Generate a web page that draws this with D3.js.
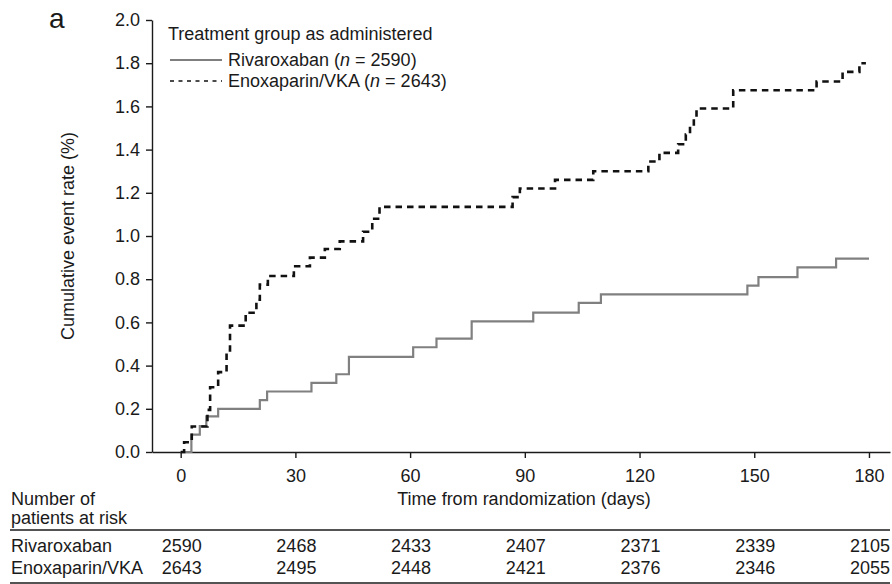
<!DOCTYPE html>
<html>
<head>
<meta charset="utf-8">
<script src="https://cdn.jsdelivr.net/npm/d3@7"></script>
<style>
  body { margin: 0; background: #fff; }
  svg text { font-family: "Liberation Sans", Arial, Helvetica, sans-serif; fill: #1a1a1a; }
  .axis path, .axis line { stroke: #1a1a1a; stroke-width: 1.4; }
  .axis text { font-size: 18px; }
</style>
</head>
<body>
<div id="km"></div>
<script>
// step points: day of the step, cumulative event rate (%) after it
var rivaDays = [0, 2.8, 5.0, 6.7, 9.8, 20.7, 22.6, 34.2, 40.7, 44.0, 60.8, 66.9, 76.1, 92.2, 104.1, 109.9, 148.2, 151.1, 161.3, 171.4, 180];
var rivaRate = [0, 0.08, 0.12, 0.165, 0.2, 0.24, 0.28, 0.32, 0.36, 0.44, 0.485, 0.525, 0.605, 0.645, 0.69, 0.73, 0.77, 0.81, 0.855, 0.895, 0.895];

var enoxDays = [0, 0.9, 2.9, 7.0, 7.7, 9.8, 12.0, 12.9, 17.0, 19.8, 20.7, 22.8, 29.6, 33.8, 37.7, 41.6, 47.7, 50.1, 52.0, 86.8, 88.7, 97.9, 107.9, 122.3, 125.2, 130.1, 132.1, 133.2, 134.2, 134.9, 144.5, 166.3, 173.1, 177.5, 179.2];
var enoxRate = [0, 0.045, 0.118, 0.195, 0.3, 0.37, 0.47, 0.585, 0.645, 0.705, 0.775, 0.815, 0.86, 0.9, 0.94, 0.975, 1.02, 1.08, 1.135, 1.18, 1.22, 1.26, 1.3, 1.345, 1.385, 1.425, 1.47, 1.51, 1.55, 1.59, 1.675, 1.715, 1.76, 1.8, 1.8];

var xTicks = [0, 30, 60, 90, 120, 150, 180];
var yTicks = [0, 0.2, 0.4, 0.6, 0.8, 1.0, 1.2, 1.4, 1.6, 1.8, 2.0];

var groupNames = ['Rivaroxaban', 'Enoxaparin/VKA'];
var groupN = [2590, 2643];
var rivaAtRisk = [2590, 2468, 2433, 2407, 2371, 2339, 2105];
var enoxAtRisk = [2643, 2495, 2448, 2421, 2376, 2346, 2055];

var width = 892, height = 584;

var svg = d3.select('#km')
    .append('svg')
    .attr('width', width)
    .attr('height', height);

var x = d3.scaleLinear()
    .domain([-7.5, 185.5])
    .range([152, 890]);
var y = d3.scaleLinear()
    .domain([0, 2])
    .range([452, 20]);

var xAxis = d3.axisBottom(x)
    .tickValues(xTicks)
    .tickSize(6)
    .tickSizeOuter(0)
    .tickPadding(18);
var yAxis = d3.axisLeft(y)
    .tickValues(yTicks)
    .tickFormat(d3.format('.1f'))
    .tickSize(6)
    .tickSizeOuter(0)
    .tickPadding(6);

svg.append('g')
    .attr('class', 'axis')
    .attr('transform', 'translate(0,' + y(0) + ')')
    .call(xAxis)
    .selectAll('text').attr('dy', '0.32em');

svg.append('g')
    .attr('class', 'axis')
    .attr('transform', 'translate(' + x(-7.5) + ',0)')
    .call(yAxis);

// panel letter
svg.append('text')
    .attr('x', 49)
    .attr('y', 28)
    .style('font-size', '28px')
    .text('a');

// axis titles
svg.append('text')
    .attr('transform', 'translate(74,' + ((y(0) + y(2)) / 2) + ') rotate(-90)')
    .style('text-anchor', 'middle')
    .style('font-size', '18px')
    .text('Cumulative event rate (%)');

svg.append('text')
    .attr('x', 524)
    .attr('y', 505)
    .style('text-anchor', 'middle')
    .style('font-size', '18px')
    .text('Time from randomization (days)');

// the two step curves
var line = d3.line()
    .curve(d3.curveStepAfter)
    .x(function(d) { return x(d[0]); })
    .y(function(d) { return y(d[1]); });

var rivaData = d3.zip(rivaDays, rivaRate);
var enoxData = d3.zip(enoxDays, enoxRate);

svg.append('path')
    .datum(rivaData)
    .attr('d', line)
    .style('fill', 'none')
    .style('stroke', '#808080')
    .style('stroke-width', 2.2);

svg.append('path')
    .datum(enoxData)
    .attr('d', line)
    .style('fill', 'none')
    .style('stroke', '#111')
    .style('stroke-width', 2.6)
    .style('stroke-dasharray', '6.5,5');

// legend
var legend = svg.append('g').attr('transform', 'translate(168,0)');
legend.append('text')
    .attr('x', 0)
    .attr('y', 40)
    .style('font-size', '18px')
    .text('Treatment group as administered');

[0, 1].forEach(function(i) {
    var ly = 60 + i * 21;
    legend.append('line')
        .attr('x1', 2).attr('x2', 54)
        .attr('y1', ly).attr('y2', ly)
        .style('stroke', i == 0 ? '#555' : '#111')
        .style('stroke-width', 1.5)
        .style('stroke-dasharray', i == 0 ? null : '4,4.5');
    var t = legend.append('text')
        .attr('x', 60)
        .attr('y', ly + 6)
        .style('font-size', '18px');
    t.append('tspan').text(groupNames[i] + ' (');
    t.append('tspan').style('font-style', 'italic').text('n');
    t.append('tspan').text(' = ' + groupN[i] + ')');
});

// number at risk table
svg.append('text')
    .attr('x', 11)
    .attr('y', 505)
    .style('font-size', '18px')
    .text('Number of');
svg.append('text')
    .attr('x', 11)
    .attr('y', 524)
    .style('font-size', '18px')
    .text('patients at risk');

svg.append('line')
    .attr('x1', 10).attr('x2', 890)
    .attr('y1', 530).attr('y2', 530)
    .style('stroke', '#1a1a1a')
    .style('stroke-width', 1.5);
svg.append('line')
    .attr('x1', 10).attr('x2', 890)
    .attr('y1', 583).attr('y2', 583)
    .style('stroke', '#1a1a1a')
    .style('stroke-width', 1.5);

[rivaAtRisk, enoxAtRisk].forEach(function(row, i) {
    var ry = 552 + i * 22;
    svg.append('text')
        .attr('x', 11)
        .attr('y', ry)
        .style('font-size', '18px')
        .text(groupNames[i]);
    svg.selectAll('.risk' + i)
        .data(row)
        .enter()
        .append('text')
        .attr('class', 'risk' + i)
        .attr('x', function(d, j) { return x(xTicks[j]) + 1; })
        .attr('y', ry)
        .style('text-anchor', 'middle')
        .style('font-size', '18px')
        .text(function(d) { return d; });
});
</script>
</body>
</html>
